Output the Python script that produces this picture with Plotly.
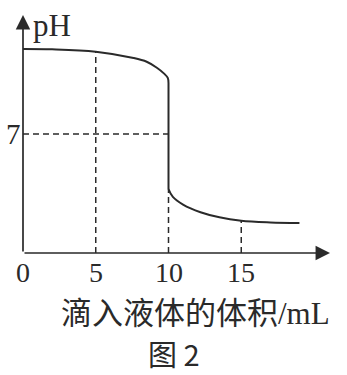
import plotly.graph_objects as go

# data
vol_upper = [0, 2, 5, 7.6, 8.5, 9.2, 9.7, 9.95, 10.0]
ph_upper = [12.0, 11.98, 11.84, 11.47, 11.25, 10.9, 10.55, 10.3, 10.0]
vol_drop = [10.0, 10.0]
ph_drop = [10.0, 3.76]
vol_lower = [10.0, 10.3, 11.0, 12.2, 13.5, 15, 17, 19]
ph_lower = [3.76, 3.3, 2.85, 2.4, 2.1, 1.9, 1.8, 1.76]

x_ticks = [0, 5, 10, 15]
x_tick_labels = ["0", "5", "10", "15"]
y_ticks = [7]
y_tick_labels = ["7"]
guide_vols = [5, 10, 15]
guide_phs = [11.84, 3.76, 1.9]
neutral_ph = 7
neutral_vol = 10

x_max = 21.1
y_max = 14.0

ink = "#2a2a2a"
serif = "Liberation Serif, Times New Roman, serif"
cjk = "Noto Sans CJK SC, sans-serif"

fig = go.Figure()

# dashed guides
for gv, gp in zip(guide_vols, guide_phs):
    fig.add_trace(go.Scatter(x=[gv, gv], y=[0, gp], mode="lines",
                             line=dict(color=ink, width=1.5, dash="6px,4px"),
                             hoverinfo="skip"))
fig.add_trace(go.Scatter(x=[0, neutral_vol], y=[neutral_ph, neutral_ph], mode="lines",
                         line=dict(color=ink, width=1.5, dash="6px,4px"),
                         hoverinfo="skip"))

# curve
fig.add_trace(go.Scatter(x=vol_upper, y=ph_upper, mode="lines",
                         line=dict(color=ink, width=2, shape="spline"), hoverinfo="skip"))
fig.add_trace(go.Scatter(x=vol_drop, y=ph_drop, mode="lines",
                         line=dict(color=ink, width=2), hoverinfo="skip"))
fig.add_trace(go.Scatter(x=vol_lower, y=ph_lower, mode="lines",
                         line=dict(color=ink, width=2, shape="spline"), hoverinfo="skip"))

annotations = []
# axes with arrows
annotations.append(dict(x=x_max, y=0, ax=0, ay=0, xref="x", yref="y", axref="x", ayref="y",
                        showarrow=True, arrowhead=2, arrowsize=1.7, arrowwidth=1.7,
                        arrowcolor=ink, text=""))
annotations.append(dict(x=0, y=y_max, ax=0, ay=0, xref="x", yref="y", axref="x", ayref="y",
                        showarrow=True, arrowhead=2, arrowsize=1.7, arrowwidth=1.7,
                        arrowcolor=ink, text=""))
# tick labels
for tv, tl in zip(x_ticks, x_tick_labels):
    annotations.append(dict(x=tv, y=0, xref="x", yref="y", text=tl, showarrow=False,
                            yanchor="middle", yshift=-19,
                            font=dict(family=serif, size=28, color=ink)))
for tv, tl in zip(y_ticks, y_tick_labels):
    annotations.append(dict(x=0, y=tv, xref="x", yref="y", text=tl, showarrow=False,
                            xanchor="right", xshift=0,
                            font=dict(family=serif, size=29, color=ink)))
# axis titles
annotations.append(dict(x=0, y=y_max, xref="x", yref="y", text="pH", showarrow=False,
                        xanchor="left", yanchor="middle", xshift=8, yshift=-10,
                        font=dict(family=serif, size=31, color=ink)))
annotations.append(dict(x=195, y=310, xref="paper", yref="paper",
                        text="滴入液体的体积<span style='font-family:Liberation Serif'>/mL</span>",
                        showarrow=False, xanchor="center", yanchor="middle",
                        font=dict(family=cjk, size=31, color=ink)))
annotations.append(dict(x=174, y=353, xref="paper", yref="paper", text="图 2",
                        showarrow=False, xanchor="center", yanchor="middle",
                        font=dict(family=cjk, size=29, color=ink)))

# convert pixel-positioned annotations to paper coords
L, R, T, B = 23, 17, 15, 122
W, H = 347, 375
pw, ph = W - L - R, H - T - B
for a in annotations:
    if a.get("xref") == "paper":
        a["x"] = (a["x"] - L) / pw
        a["y"] = (H - B - a["y"]) / ph

fig.update_layout(
    width=W, height=H,
    margin=dict(l=L, r=R, t=T, b=B),
    paper_bgcolor="white", plot_bgcolor="white",
    showlegend=False,
    xaxis=dict(range=[0, x_max], visible=False, fixedrange=True),
    yaxis=dict(range=[0, y_max], visible=False, fixedrange=True),
    annotations=annotations,
)

fig.write_html("out.html")
